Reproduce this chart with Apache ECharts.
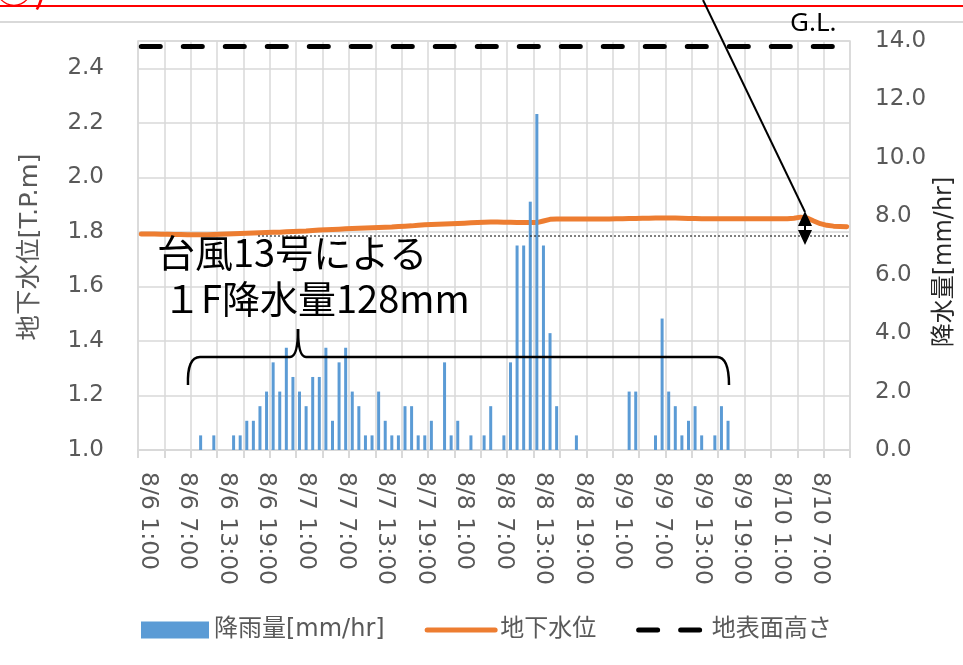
<!DOCTYPE html>
<html><head><meta charset="utf-8">
<script src="https://cdn.jsdelivr.net/npm/echarts@6/dist/echarts.min.js"></script>
<style>html,body{margin:0;padding:0;background:#fff}#c{width:963px;height:665px}</style>
</head><body><div id="c"></div>
<script>
// ---- data ----
const days = ['8/6', '8/7', '8/8', '8/9', '8/10'];
const hourCount = 108; // 8/6 0:00 .. 8/10 11:00, hourly
const categories = [];
for (let i = 0; i < hourCount; i++) {
  categories.push(days[Math.floor(i / 24)] + ' ' + (i % 24) + ':00');
}
// hourly rainfall [mm/hr] (right axis)
const rainfall = [
  0, 0, 0, 0, 0, 0, 0, 0, 0, 0.5,
  0, 0.5, 0, 0, 0.5, 0.5, 1.0, 1.0, 1.5, 2.0,
  3.0, 2.0, 3.5, 2.5, 2.0, 1.5, 2.5, 2.5, 3.5, 1.0,
  3.0, 3.5, 2.0, 1.5, 0.5, 0.5, 2.0, 1.0, 0.5, 0.5,
  1.5, 1.5, 0.5, 0.5, 1.0, 0, 3.0, 0.5, 1.0, 0,
  0.5, 0, 0.5, 1.5, 0, 0.5, 3.0, 7.0, 7.0, 8.5,
  11.5, 7.0, 4.0, 1.5, 0, 0, 0.5, 0, 0, 0,
  0, 0, 0, 0, 2.0, 2.0, 0, 0, 0.5, 4.5,
  2.0, 1.5, 0.5, 1.0, 1.5, 0.5, 0, 0.5, 1.5, 1.0,
  0, 0, 0, 0, 0, 0, 0, 0, 0, 0,
  0, 0, 0, 0, 0, 0, 0, 0
];
// groundwater level [T.P.m] (left axis)
const groundwater = [
  1.792, 1.792, 1.792, 1.791, 1.791, 1.790, 1.790, 1.789, 1.789, 1.789,
  1.789, 1.790, 1.791, 1.792, 1.793, 1.794, 1.795, 1.796, 1.797, 1.798,
  1.799, 1.799, 1.800, 1.801, 1.802, 1.803, 1.805, 1.807, 1.808, 1.809,
  1.810, 1.811, 1.812, 1.813, 1.814, 1.815, 1.816, 1.817, 1.818, 1.820,
  1.821, 1.822, 1.824, 1.826, 1.827, 1.828, 1.829, 1.830, 1.831, 1.832,
  1.833, 1.834, 1.835, 1.836, 1.836, 1.835, 1.835, 1.834, 1.834, 1.834,
  1.834, 1.840, 1.846, 1.847, 1.847, 1.847, 1.847, 1.847, 1.847, 1.847,
  1.847, 1.847, 1.848, 1.848, 1.849, 1.849, 1.850, 1.850, 1.851, 1.851,
  1.851, 1.851, 1.850, 1.849, 1.849, 1.848, 1.848, 1.848, 1.848, 1.848,
  1.848, 1.848, 1.848, 1.848, 1.848, 1.848, 1.848, 1.848, 1.848, 1.850,
  1.854, 1.851, 1.840, 1.830, 1.824, 1.821, 1.820, 1.819
];
// ground surface height (G.L.) [T.P.m]
const surfaceHeight = 2.48;
const surface = categories.map(() => surfaceHeight);
// axis settings
const leftMin = 1.0, leftMax = 2.5, leftStep = 0.2;
const rightMin = 0, rightMax = 14, rightStep = 2;
const seriesNames = ['降雨量[mm/hr]', '地下水位', '地表面高さ'];

const FONT = '"DejaVu Sans", "Noto Sans CJK JP", sans-serif';
const JFONT = '"Noto Sans CJK JP", sans-serif';
const GRAY = '#595959';
const GRID = '#d9d9d9';

function ln(x1, y1, x2, y2, stroke, w, dash) {
  const st = {stroke: stroke, lineWidth: w};
  if (dash) st.lineDash = dash;
  return {type: 'line', shape: {x1: x1, y1: y1, x2: x2, y2: y2}, style: st, silent: true, z: 10};
}
function qc(x1, y1, cx, cy, x2, y2) {
  return {type: 'bezierCurve', shape: {x1: x1, y1: y1, cpx1: cx, cpy1: cy, x2: x2, y2: y2},
    style: {stroke: '#000', lineWidth: 2.5, fill: null}, silent: true, z: 10};
}
function tx(x, y, text, font, fill, extra) {
  return {type: 'text', x: x, y: y, style: Object.assign({text: text, font: font, fill: fill}, extra || {}), silent: true, z: 10};
}

const chart = echarts.init(document.getElementById('c'), null, {renderer: 'canvas'});
chart.setOption({
  animation: false,
  backgroundColor: '#fff',
  grid: {left: 138, right: 113, top: 41, bottom: 215, show: true, borderColor: GRID, borderWidth: 1.5},
  legend: {
    left: 136, top: 613, itemWidth: 68, itemHeight: 17, itemGap: 40,
    textStyle: {fontSize: 24, color: GRAY, fontFamily: FONT},
    lineStyle: {width: 5},
    data: [
      {name: seriesNames[0], icon: 'rect'},
      {name: seriesNames[1], itemStyle: {opacity: 0}},
      {name: seriesNames[2], itemStyle: {opacity: 0}}
    ]
  },
  xAxis: {
    type: 'category', data: categories, boundaryGap: true,
    axisLine: {show: true, lineStyle: {color: GRID, width: 2}},
    axisTick: {show: true, interval: 3, length: 8, lineStyle: {color: GRID, width: 2}},
    splitLine: {show: true, interval: 3, lineStyle: {color: GRID, width: 1.5}},
    axisLabel: {
      interval: (idx) => idx % 6 === 1, rotate: -90, margin: 22,
      fontSize: 23.5, color: GRAY, fontFamily: FONT
    }
  },
  yAxis: [
    {
      type: 'value', min: leftMin, max: leftMax, interval: leftStep,
      axisLine: {show: false}, axisTick: {show: false},
      splitLine: {show: true, lineStyle: {color: GRID, width: 1.5}},
      axisLabel: {showMaxLabel: false, margin: 34, fontSize: 23, color: GRAY, fontFamily: FONT,
        formatter: (v) => v.toFixed(1)}
    },
    {
      type: 'value', min: rightMin, max: rightMax, interval: rightStep,
      axisLine: {show: false}, axisTick: {show: false}, splitLine: {show: false},
      axisLabel: {margin: 25, fontSize: 23, color: GRAY, fontFamily: FONT,
        formatter: (v) => v.toFixed(1)}
    }
  ],
  series: [
    {
      name: seriesNames[0], type: 'bar', yAxisIndex: 1, data: rainfall,
      barWidth: 3, itemStyle: {color: '#5b9bd5'}, z: 4
    },
    {
      name: seriesNames[1], type: 'line', yAxisIndex: 0, data: groundwater,
      symbol: 'none', smooth: false,
      lineStyle: {color: '#ed7d31', width: 5, cap: 'round', join: 'round'},
      itemStyle: {color: '#ed7d31'}, z: 3
    },
    {
      name: seriesNames[2], type: 'line', yAxisIndex: 0, data: surface,
      symbol: 'none',
      lineStyle: {color: '#000', width: 5, type: [19, 23], cap: 'round'},
      itemStyle: {color: '#000'}, z: 3
    }
  ],
  graphic: [
    // page decorations
    ln(0, 6, 963, 6, '#ff0000', 2),
    ln(0, 22, 963, 22, GRID, 2),
    tx(-6, -33, '④)', '40px ' + JFONT, '#ff0000'),
    tx(790, 11, 'G.L.', '26px "Noto Sans", sans-serif', '#000'),
    // axis titles
    Object.assign(tx(30, 247, '地下水位[T.P.m]', '25.5px ' + FONT, GRAY, {align: 'center', verticalAlign: 'middle'}), {rotation: Math.PI / 2}),
    Object.assign(tx(945, 262, '降水量[mm/hr]', '24px ' + FONT, '#262626', {align: 'center', verticalAlign: 'middle'}), {rotation: Math.PI / 2}),
    // annotation text
    tx(157, 234, '台風13号による', '38px ' + JFONT, '#000'),
    tx(163, 280, '１F降水量128mm', '38px ' + JFONT, '#000'),
    // brace
    qc(188, 385, 187, 357, 200, 357),
    ln(200, 357, 290, 357, '#000', 2.5),
    qc(290, 357, 298, 357, 298, 329),
    qc(298, 329, 298, 357, 306, 357),
    ln(306, 357, 717, 357, '#000', 2.5),
    qc(717, 357, 729, 357, 729, 385),
    // dotted reference line
    ln(258, 236, 850, 236, '#000', 1, [2, 2]),
    // leader line and double arrow
    ln(703, 0, 805, 212, '#000', 2),
    ln(805, 220, 805, 238, '#000', 2),
    {type: 'polygon', shape: {points: [[798, 226], [812, 226], [805, 211]]}, style: {fill: '#000'}, silent: true, z: 10},
    {type: 'polygon', shape: {points: [[798, 230], [812, 230], [805, 245]]}, style: {fill: '#000'}, silent: true, z: 10}
  ]
});
</script>
</body></html>
